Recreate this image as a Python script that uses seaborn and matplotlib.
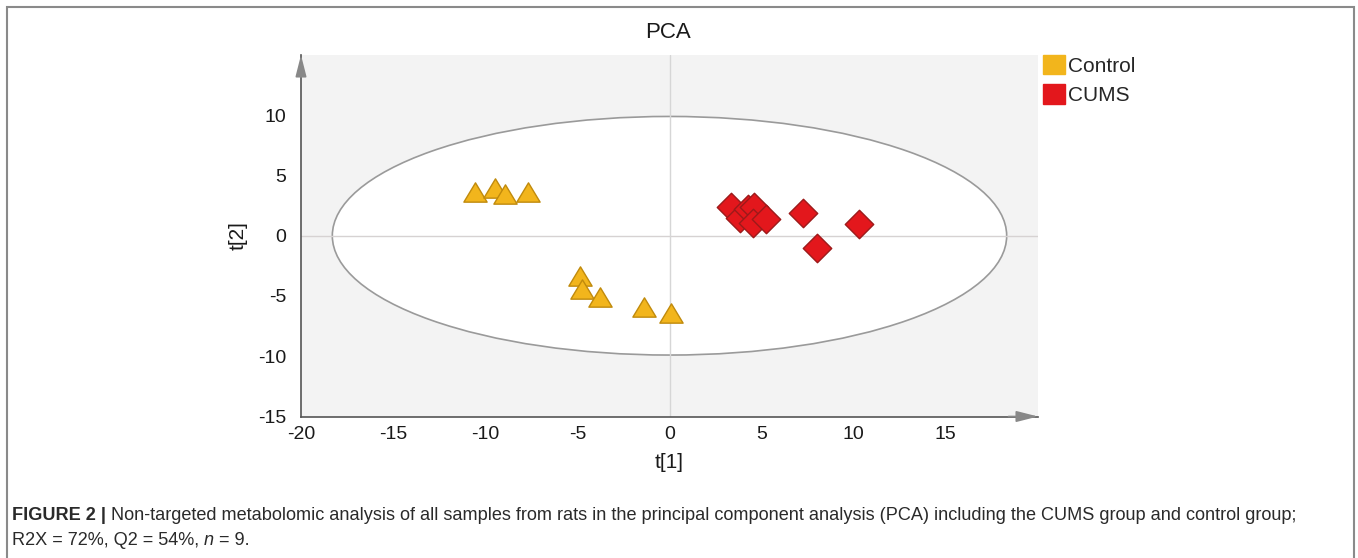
import matplotlib
matplotlib.use("Agg")
import matplotlib.pyplot as plt
import seaborn as sns
import pandas as pd
import numpy as np
from matplotlib.patches import Ellipse, Patch, Rectangle
from matplotlib.path import Path
from matplotlib.ticker import FixedLocator

# ---------------- data ----------------
control_t1 = [-10.54, -9.45, -8.95, -7.70, -4.88, -4.75, -3.76, -1.41, 0.08]
control_t2 = [3.63, 3.93, 3.46, 3.60, -3.35, -4.45, -5.06, -5.94, -6.44]
cums_t1 = [3.33, 3.84, 4.24, 4.60, 4.51, 5.25, 7.27, 8.03, 10.29]
cums_t2 = [2.41, 1.44, 2.18, 2.41, 1.08, 1.36, 1.91, -1.05, 0.95]
groups = ["Control", "CUMS"]
ellipse_half_t1 = 18.3
ellipse_half_t2 = 9.9
x_ticks = [-20, -15, -10, -5, 0, 5, 10, 15]
y_ticks = [-15, -10, -5, 0, 5, 10]
title = "PCA"
caption_bold = "FIGURE 2 |"
caption_line1 = " Non-targeted metabolomic analysis of all samples from rats in the principal component analysis (PCA) including the CUMS group and control group;"
caption_line2 = ["R2X = 72%, Q2 = 54%, ", "n", " = 9."]

df = pd.DataFrame({
    "t1": control_t1 + cums_t1,
    "t2": control_t2 + cums_t2,
    "group": [groups[0]] * len(control_t1) + [groups[1]] * len(cums_t1),
})

fill = {"Control": "#F2B51C", "CUMS": "#E3171C"}
edge = {"Control": "#C08A0C", "CUMS": "#9C1A1A"}
tri = Path([(0, 0.83), (-1, -0.83), (1, -0.83), (0, 0.83)],
           [Path.MOVETO, Path.LINETO, Path.LINETO, Path.CLOSEPOLY])
marker = {"Control": tri, "CUMS": "D"}
size = {"Control": 280, "CUMS": 210}

sns.set_theme(style="white")
plt.rcParams["font.family"] = ["Liberation Sans", "DejaVu Sans"]
plt.rcParams["axes.unicode_minus"] = False

W, H = 1358, 558
fig = plt.figure(figsize=(W / 100, H / 100), dpi=100)
fig.patch.set_facecolor("white")

def fx(px):
    return px / W

def fy(py):
    return 1 - py / H

left, right, top, bottom = 301, 1038, 55, 416.5
ax = fig.add_axes([fx(left), fy(bottom), fx(right - left), (bottom - top) / H])
ax.set_facecolor("#F3F3F3")

# ellipse (Hotelling T2)
ell = Ellipse((0, 0), 2 * ellipse_half_t1, 2 * ellipse_half_t2, facecolor="white",
              edgecolor="#9A9A9A", lw=1.2, zorder=0.5)
ax.add_patch(ell)
ax.axhline(0, color="#D6D2D2", lw=1, zorder=1)
ax.axvline(0, color="#D6D6D6", lw=1, zorder=1)

for g in groups:
    sub = df[df["group"] == g]
    sns.scatterplot(data=sub, x="t1", y="t2", ax=ax, marker=marker[g], s=size[g],
                    color=fill[g], edgecolor=edge[g], linewidth=1.0, zorder=3,
                    legend=False)

ax.set_xlim(-20, 20)
ax.set_ylim(-15, 15)
ax.xaxis.set_major_locator(FixedLocator(x_ticks))
ax.yaxis.set_major_locator(FixedLocator(y_ticks))
ax.xaxis.set_minor_locator(FixedLocator([v + 2.5 for v in x_ticks]))
ax.yaxis.set_minor_locator(FixedLocator([v + 2.5 for v in y_ticks]))
ax.tick_params(axis="both", which="both", direction="out", length=3.5, width=1,
               color="#555555", labelsize=14, labelcolor="#1a1a1a")
ax.tick_params(axis="x", which="major", pad=3)
ax.tick_params(axis="y", which="major", pad=7)
ax.tick_params(axis="both", which="minor", length=3)

for s in ["top", "right"]:
    ax.spines[s].set_visible(False)
for s in ["left", "bottom"]:
    ax.spines[s].set_color("#555555")
    ax.spines[s].set_linewidth(1.2)

# axis arrows
ax.annotate("", xy=(0, 1), xycoords="axes fraction", xytext=(0, 0.94),
            arrowprops=dict(arrowstyle="-|>,head_length=1.1,head_width=0.28",
                            color="#888888", lw=1.2, shrinkA=0, shrinkB=0),
            annotation_clip=False)
ax.annotate("", xy=(1, 0), xycoords="axes fraction", xytext=(0.96, 0),
            arrowprops=dict(arrowstyle="-|>,head_length=1.1,head_width=0.28",
                            color="#888888", lw=1.2, shrinkA=0, shrinkB=0),
            annotation_clip=False)

ax.set_xlabel("t[1]", fontsize=15, color="#1a1a1a")
ax.set_ylabel("t[2]", fontsize=15, color="#1a1a1a")
ax.xaxis.set_label_coords(0.5, -0.1)
ax.yaxis.set_label_coords(-0.072, 0.5)

fig.text(fx(668), fy(32), title, fontsize=16, ha="center", va="center", color="#1a1a1a")

# legend
handles = [Patch(facecolor=fill[g], edgecolor=fill[g], label=g) for g in groups]
fig.legend(handles=handles, loc="upper left", bbox_to_anchor=(fx(1043), fy(55)),
           frameon=False, fontsize=15, handlelength=1.06, handleheight=1.06,
           handletextpad=0.15, labelspacing=0.4, borderaxespad=0, borderpad=0)

# outer frame
fig.add_artist(Rectangle((fx(7), -0.05), fx(1354 - 7), fy(7) + 0.05,
                         transform=fig.transFigure, fill=False,
                         edgecolor="#8A8A8A", lw=1.5, clip_on=False))

# caption
renderer = fig.canvas.get_renderer()

def runs(x, y, parts):
    for s, kw in parts:
        t = fig.text(x, y, s, fontsize=13.1, va="baseline", color="#2a2a2a", **kw)
        bb = t.get_window_extent(renderer)
        x = fig.transFigure.inverted().transform((bb.x1, bb.y0))[0]

runs(fx(12), fy(520), [(caption_bold, dict(fontweight="bold")), (caption_line1, {})])
runs(fx(12), fy(545), [(caption_line2[0], {}), (caption_line2[1], dict(style="italic")),
                       (caption_line2[2], {})])

fig.savefig("out.png", dpi=100)
